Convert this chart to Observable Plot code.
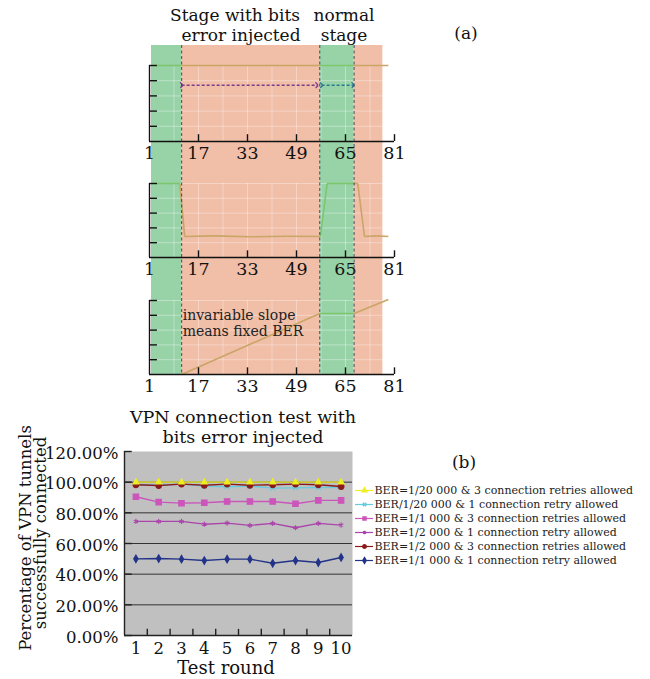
<!DOCTYPE html>
<html>
<head>
<meta charset="utf-8">
<script src="https://cdn.jsdelivr.net/npm/d3@7"></script>
<script src="https://cdn.jsdelivr.net/npm/@observablehq/plot@0.6"></script>
<style>
  html, body { margin: 0; padding: 0; background: #fff; }
  #root { position: relative; width: 650px; height: 679px; overflow: hidden; font-family: "DejaVu Serif", serif; color: #111; }
  .layer { position: absolute; left: 0; }
  .layer svg { display: block; }
</style>
</head>
<body>
<div id="root"></div>
<script>
// ---------------- DATA: part (a) ----------------
const xTicksA = [1, 17, 33, 49, 65, 81];
const gridXA = [9, 17, 25, 33, 41, 49, 57, 65, 73];
const yTicksA = [1, 2, 3, 4, 5];
const bandStarts = [1.65, 11.5, 56.6, 67.8];
const bandEnds = [11.5, 56.6, 67.8, 77.2];
const bandStages = ["normal", "error", "normal", "error"];
const stageBoundaries = [11.5, 56.6, 67.8];

const panel1X = [1.65, 11.5, 56.6, 67.8, 79.0];
const panel1Y = [5, 5, 5, 5, 5];
const panel2X = [1.65, 10.9, 12.5, 22, 34, 46, 56.8, 59.0, 67.8, 69.0, 71.2, 75, 79.0];
const panel2Y = [5, 5, 1.42, 1.46, 1.40, 1.44, 1.42, 5, 5, 5, 1.42, 1.46, 1.42];
const panel3X = [11.5, 56.6, 67.8, 79.0];
const panel3Y = [0, 4.12, 4.12, 5.07];

const arrowStarts = [11.5, 57.2];
const arrowEnds = [55.7, 67.5];
const arrowLevels = [3.7, 3.7];
const annotationText = "invariable slope\nmeans fixed BER";

// ---------------- DATA: part (b) ----------------
const rounds = [1, 2, 3, 4, 5, 6, 7, 8, 9, 10];
const yTicksB = [0, 20, 40, 60, 80, 100, 120];
const gridB = [20, 40, 60, 80, 100];
const roundBoundaries = [1.5, 2.5, 3.5, 4.5, 5.5, 6.5, 7.5, 8.5, 9.5];
const seriesNames = [
  "BER=1/20 000 & 3 connection retries allowed",
  "BER/1/20 000 & 1 connection retry allowed",
  "BER=1/1 000 & 3 connection retries allowed",
  "BER=1/2 000 & 1 connection retry allowed",
  "BER=1/2 000 & 3 connection retries allowed",
  "BER=1/1 000 & 1 connection retry allowed"
];
const ber20k3 = [100, 100, 100, 100, 100, 100, 100, 100, 100, 100];
const ber20k1 = [98.3, 98.0, 98.7, 97.4, 97.0, 97.4, 96.1, 96.3, 96.5, 96.5];
const ber1k3  = [90.5, 87.0, 86.3, 86.6, 87.4, 87.4, 87.4, 85.9, 88.1, 88.1];
const ber2k1  = [74.4, 74.4, 74.4, 72.6, 73.3, 71.8, 73.1, 70.3, 73.1, 72.0];
const ber2k3  = [98.3, 97.8, 98.7, 98.0, 98.7, 98.0, 98.3, 98.7, 98.3, 97.2];
const ber1k1  = [50.0, 50.2, 49.8, 48.9, 49.8, 49.8, 47.1, 48.9, 47.6, 50.9];
const seriesValues = [ber20k3, ber20k1, ber1k3, ber2k1, ber2k3, ber1k1];

// ---------------- STYLES ----------------
const FONT = "DejaVu Serif";
const BAND_COLORS = ["#98d3a8", "#f1bea7"];
const LINE_COLORS = { normal: "#7cc66d", error: "#c9a566", none: "#c9a566" };
const ARROW_COLORS = ["#7a3c8c", "#2a7890"];
const SERIES_COLORS = ["#eeee22", "#66ccdd", "#cc55bb", "#aa44aa", "#8b1a1a", "#223388"];
const SERIES_SYMBOLS = ["triangle", "times", "square", "asterisk", "circle", "diamond"];
const SERIES_R = [2.2, 2.4, 3.1, 2.4, 2.9, 2.3];
const DRAW_ORDER = [5, 3, 2, 1, 4, 0];

const root = document.getElementById("root");
function addLayer(node, top) {
  const d = document.createElement("div");
  d.className = "layer";
  d.style.top = top + "px";
  d.appendChild(node);
  root.appendChild(d);
}

// ---------------- part (a) ----------------
const bands = bandStarts.map((s, i) => ({ x1: s, x2: bandEnds[i], stage: bandStages[i] }));
const common = {
  width: 650, marginLeft: 149, marginRight: 256,
  style: { background: "transparent", overflow: "visible", fontFamily: FONT }
};

addLayer(Plot.plot({
  ...common, height: 329, marginTop: 0, marginBottom: 0,
  x: { domain: [1, 81], axis: null }, y: { domain: [0, 1], axis: null },
  color: { domain: ["normal", "error"], range: BAND_COLORS },
  marks: [Plot.rect(bands, { x1: "x1", x2: "x2", y1: 0, y2: 1, fill: "stage" })]
}), 45);

function stageAt(x) {
  for (let i = 0; i < bandStarts.length; i++) if (x >= bandStarts[i] && x < bandEnds[i]) return bandStages[i];
  return "none";
}
function segments(xs, ys) {
  const out = [];
  for (let i = 0; i < xs.length - 1; i++) {
    out.push({ x1: xs[i], y1: ys[i], x2: xs[i + 1], y2: ys[i + 1], stage: stageAt((xs[i] + xs[i + 1]) / 2) });
  }
  return out;
}

function panelPlot(xs, ys, marginTop, marginBottom, extra) {
  return Plot.plot({
    ...common, height: 130, marginTop, marginBottom,
    x: { domain: [1, 81], axis: null }, y: { domain: [0, 5], axis: null },
    marks: [
      Plot.ruleX(gridXA, { y1: 0, y2: 5, stroke: "#fff", strokeOpacity: 0.35 }),
      Plot.ruleY(yTicksA, { x1: 1, x2: 79.5, stroke: "#fff", strokeOpacity: 0.35 }),
      Plot.link(segments(xs, ys), { x1: "x1", y1: "y1", x2: "x2", y2: "y2", stroke: d => LINE_COLORS[d.stage], strokeWidth: 1.6 }),
      ...extra,
      Plot.ruleY([0], { x1: 1, x2: 81, stroke: "#111", strokeWidth: 1.4 }),
      Plot.ruleX([1], { y1: 0, y2: 5, stroke: "#111", strokeWidth: 1.4 }),
      Plot.ruleY(yTicksA, { x1: 1, x2: 3.6, stroke: "#111", strokeWidth: 1.4 }),
      Plot.ruleX(xTicksA.slice(1), { y1: 0, y2: 0.45, stroke: "#111", strokeWidth: 1.4 }),
      Plot.text(xTicksA, { x: d => d, y: 0, text: d => String(d), lineAnchor: "top", dy: 5, fontSize: 17.5, fill: "#111" })
    ]
  });
}

const arrowIdx = arrowStarts.map((_, i) => i);
addLayer(panelPlot(panel1X, panel1Y, 21, 33, [
  Plot.link(arrowIdx, {
    x1: i => arrowStarts[i], x2: i => arrowEnds[i], y1: i => arrowLevels[i], y2: i => arrowLevels[i],
    stroke: i => ARROW_COLORS[i], strokeWidth: 1.3, strokeDasharray: "3,2",
    markerStart: "arrow", markerEnd: "arrow"
  })
]), 44);
addLayer(panelPlot(panel2X, panel2Y, 23, 33, []), 160);
addLayer(panelPlot(panel3X, panel3Y, 22, 34, [
  Plot.text([annotationText], { x: 11.5, y: 3.5, text: d => d, textAnchor: "start", lineAnchor: "middle", lineHeight: 1.2, fontSize: 14, fill: "#222", dx: 1 })
]), 278);

// dashed stage boundaries on top
addLayer(Plot.plot({
  ...common, height: 329, marginTop: 0, marginBottom: 0,
  x: { domain: [1, 81], axis: null }, y: { domain: [0, 1], axis: null },
  marks: [Plot.ruleX(stageBoundaries, { stroke: "#2c3b5a", strokeWidth: 0.9, strokeDasharray: "3,2.5" })]
}), 45);

// ---------------- part (b) ----------------
const table = seriesNames.flatMap((s, i) => rounds.map((r, j) => ({ series: s, round: r, value: seriesValues[i][j] })));
const seriesMarks = [];
for (const i of DRAW_ORDER) {
  const rows = table.filter(d => d.series === seriesNames[i]);
  seriesMarks.push(Plot.line(rows, { x: "round", y: "value", stroke: "series", strokeWidth: 1.4 }));
  seriesMarks.push(Plot.dot(rows, { x: "round", y: "value", symbol: "series", fill: "series", stroke: "series", r: SERIES_R[i], strokeWidth: 1.1 }));
}

addLayer(Plot.plot({
  width: 650, height: 239, marginLeft: 124, marginRight: 298, marginTop: 11, marginBottom: 44,
  style: { background: "transparent", overflow: "visible", fontFamily: FONT },
  x: { domain: [0.5, 10.5], axis: null }, y: { domain: [0, 120], axis: null },
  color: { domain: seriesNames, range: SERIES_COLORS },
  symbol: { domain: seriesNames, range: SERIES_SYMBOLS },
  marks: [
    Plot.frame({ fill: "#c0c0c0", stroke: "none" }),
    Plot.ruleY(gridB, { stroke: "#333", strokeWidth: 1 }),
    ...seriesMarks,
    Plot.ruleX([0.5], { stroke: "#222", strokeWidth: 1.4 }),
    Plot.ruleY([0], { stroke: "#222", strokeWidth: 1.4 }),
    Plot.ruleY(yTicksB, { x1: 0.5, x2: 0.84, stroke: "#222", strokeWidth: 1.4 }),
    Plot.ruleX(roundBoundaries, { y1: 0, y2: 4, stroke: "#222", strokeWidth: 1.4 }),
    Plot.text(yTicksB, { x: 0.5, y: d => d, text: d => d.toFixed(2) + "%", textAnchor: "end", dx: -6, dy: 2, fontSize: 16.5, fill: "#111" }),
    Plot.text(rounds, { x: d => d, y: 0, text: d => String(d), lineAnchor: "top", dy: 7, fontSize: 16.5, fill: "#111" })
  ]
}), 440);

// legend
addLayer(Plot.plot({
  width: 650, height: 86, marginLeft: 355, marginRight: 277, marginTop: 8, marginBottom: 8,
  style: { background: "transparent", overflow: "visible", fontFamily: FONT },
  x: { domain: [0, 1], axis: null },
  y: { type: "point", domain: seriesNames, padding: 0, axis: null },
  color: { domain: seriesNames, range: SERIES_COLORS },
  symbol: { domain: seriesNames, range: SERIES_SYMBOLS },
  marks: [
    Plot.ruleY(seriesNames, { y: d => d, x1: 0, x2: 1, stroke: d => d, strokeWidth: 1.2 }),
    Plot.dot(seriesNames, { x: 0.5, y: d => d, symbol: d => d, fill: d => d, stroke: d => d, r: 1.7 }),
    Plot.text(seriesNames, { x: 1, y: d => d, text: d => d, textAnchor: "start", dx: 1, fontSize: 11, fill: "#222" })
  ]
}), 482);

// ---------------- free text overlay ----------------
const svg = d3.create("svg").attr("width", 650).attr("height", 679)
  .style("font-family", FONT).style("fill", "#111").style("pointer-events", "none");
const texts = [
  { t: "Stage with bits", x: 235, y: 20.5, s: 17 },
  { t: "error injected", x: 241, y: 40.5, s: 17 },
  { t: "normal", x: 344, y: 20.5, s: 17 },
  { t: "stage", x: 344, y: 40.5, s: 17 },
  { t: "(a)", x: 466, y: 39, s: 17 },
  { t: "VPN connection test with", x: 243, y: 422.5, s: 17.5 },
  { t: "bits error injected", x: 243, y: 443, s: 17.5 },
  { t: "(b)", x: 464, y: 467.5, s: 17 },
  { t: "Test round", x: 226, y: 674, s: 18 }
];
for (const d of texts) {
  svg.append("text").attr("x", d.x).attr("y", d.y).attr("text-anchor", "middle").attr("font-size", d.s).text(d.t);
}
svg.append("text").attr("transform", "translate(31,538) rotate(-90)").attr("text-anchor", "middle").attr("font-size", 16.5).text("Percentage of VPN tunnels");
svg.append("text").attr("transform", "translate(46,533) rotate(-90)").attr("text-anchor", "middle").attr("font-size", 16.5).text("successfully connected");
addLayer(svg.node(), 0);
</script>
</body>
</html>
